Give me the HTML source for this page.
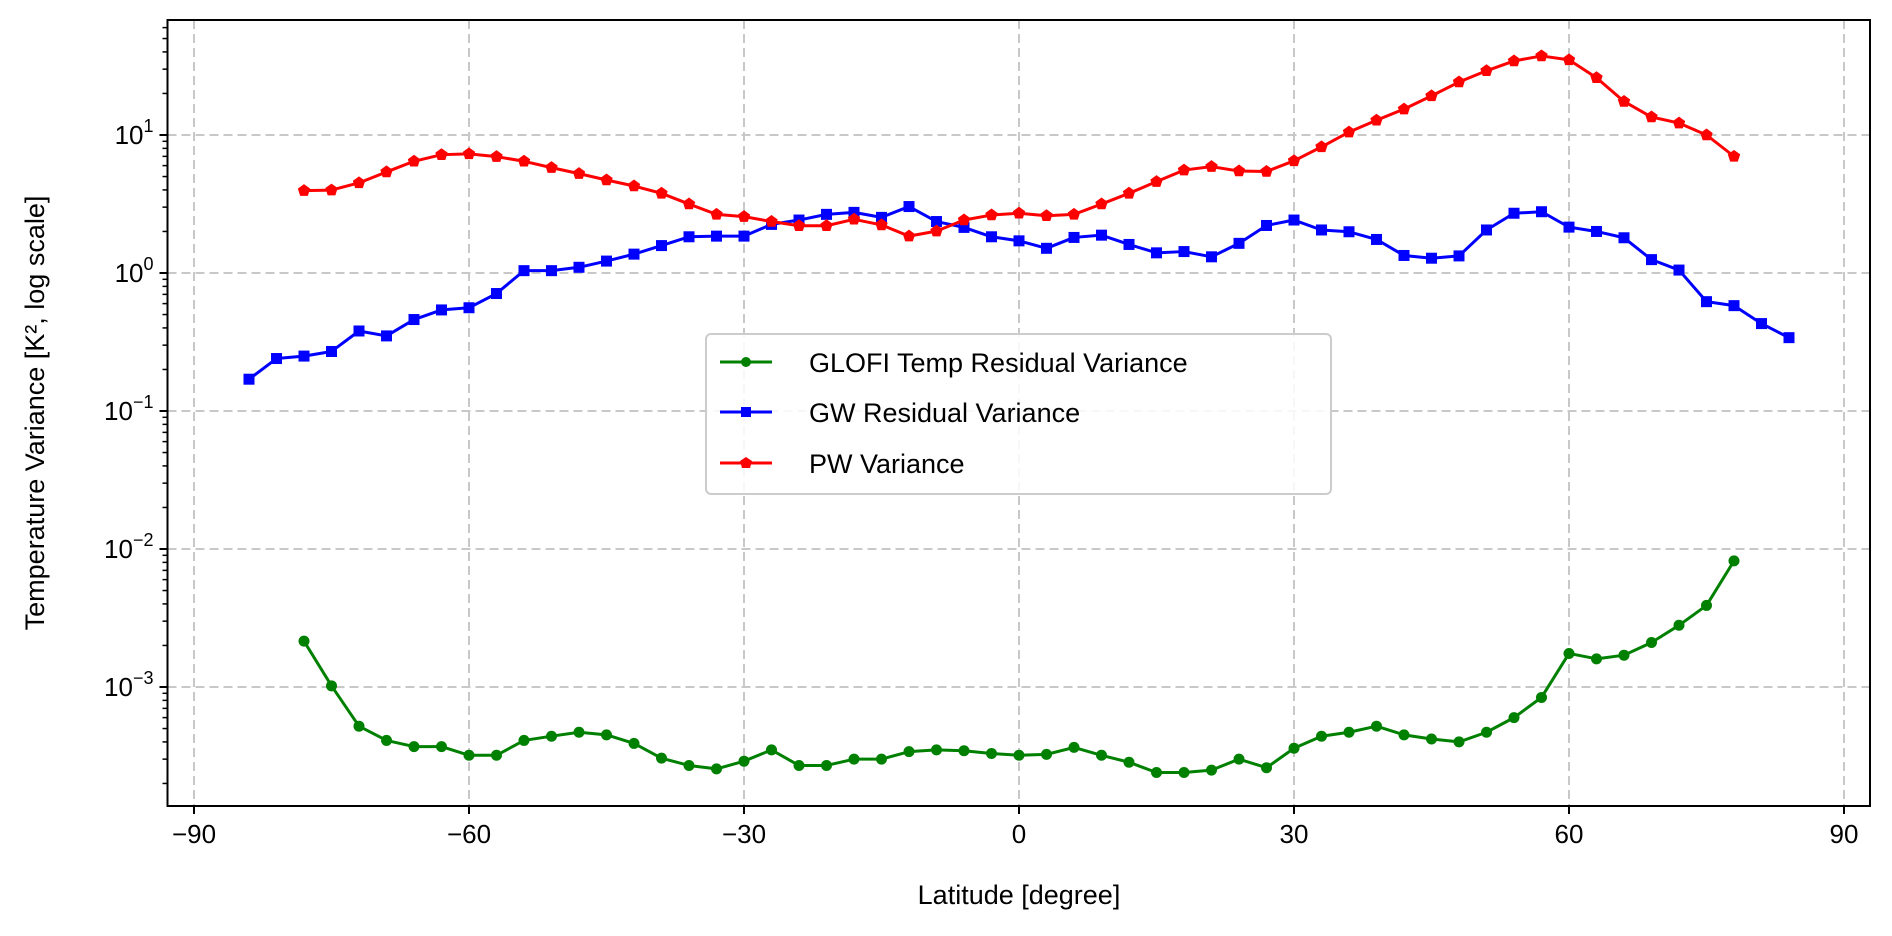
<!DOCTYPE html>
<html><head><meta charset="utf-8"><style>
body{margin:0;background:#fff}
svg text{font-family:"Liberation Sans","DejaVu Sans",sans-serif;fill:#000}
</style></head><body>
<svg id="chart" width="1892" height="931" viewBox="0 0 1892 931" xmlns="http://www.w3.org/2000/svg">
<g id="grid"></g>
<g id="axes"></g>
<g id="series"></g>
<rect x="167.5" y="20" width="1702.5" height="786" fill="none" stroke="#000" stroke-width="2"/>
<text x="1019" y="904" font-size="27" text-anchor="middle">Latitude [degree]</text>
<text transform="translate(44,413) rotate(-90)" font-size="27" text-anchor="middle">Temperature Variance [K², log scale]</text>
<g>
<rect x="706" y="334" width="625" height="160" rx="5" fill="#fff" fill-opacity="0.85" stroke="#ccc" stroke-width="2"/>
<g><line x1="720" x2="772" y1="362" y2="362" stroke="green" stroke-width="3"/><circle cx="746" cy="362" r="5" fill="green"/><text x="809" y="372" font-size="27">GLOFI Temp Residual Variance</text></g>
<g><line x1="720" x2="772" y1="412" y2="412" stroke="blue" stroke-width="3"/><rect x="741" y="407" width="10" height="10" fill="blue"/><text x="809" y="422" font-size="27">GW Residual Variance</text></g>
<g><line x1="720" x2="772" y1="463" y2="463" stroke="red" stroke-width="3"/><polygon points="746,457 752,461 750,468 742,468 740,461" fill="red"/><text x="809" y="473" font-size="27">PW Variance</text></g>
</g>
</svg>
<script>
const latGW=[-84,-81,-78,-75,-72,-69,-66,-63,-60,-57,-54,-51,-48,-45,-42,-39,-36,-33,-30,-27,-24,-21,-18,-15,-12,-9,-6,-3,0,3,6,9,12,15,18,21,24,27,30,33,36,39,42,45,48,51,54,57,60,63,66,69,72,75,78,81,84];
const gwValues=[0.17,0.24,0.25,0.27,0.38,0.35,0.46,0.54,0.56,0.71,1.04,1.04,1.1,1.22,1.37,1.58,1.83,1.85,1.85,2.25,2.42,2.66,2.75,2.53,3.03,2.36,2.14,1.83,1.71,1.51,1.81,1.88,1.61,1.4,1.43,1.31,1.64,2.21,2.42,2.05,1.99,1.75,1.34,1.28,1.33,2.05,2.71,2.78,2.15,2.0,1.8,1.25,1.05,0.62,0.58,0.43,0.34];
const latPW=[-78,-75,-72,-69,-66,-63,-60,-57,-54,-51,-48,-45,-42,-39,-36,-33,-30,-27,-24,-21,-18,-15,-12,-9,-6,-3,0,3,6,9,12,15,18,21,24,27,30,33,36,39,42,45,48,51,54,57,60,63,66,69,72,75,78];
const pwValues=[3.95,3.99,4.5,5.4,6.45,7.2,7.3,6.97,6.45,5.8,5.25,4.72,4.27,3.78,3.16,2.66,2.56,2.36,2.2,2.2,2.45,2.23,1.85,2.01,2.42,2.63,2.71,2.6,2.66,3.16,3.78,4.59,5.57,5.9,5.48,5.44,6.5,8.2,10.5,12.8,15.4,19.2,24.2,29.2,34.4,37.4,35,26,17.5,13.5,12.2,10,7];
const latGL=latPW;
const glofiValues=[2.15e-3,1.02e-3,5.2e-4,4.1e-4,3.7e-4,3.7e-4,3.2e-4,3.2e-4,4.1e-4,4.4e-4,4.7e-4,4.5e-4,3.9e-4,3.05e-4,2.7e-4,2.55e-4,2.9e-4,3.5e-4,2.7e-4,2.7e-4,3.0e-4,3.0e-4,3.4e-4,3.5e-4,3.45e-4,3.3e-4,3.2e-4,3.25e-4,3.65e-4,3.2e-4,2.85e-4,2.4e-4,2.4e-4,2.5e-4,3.0e-4,2.6e-4,3.6e-4,4.4e-4,4.7e-4,5.2e-4,4.5e-4,4.2e-4,4.0e-4,4.7e-4,6.0e-4,8.4e-4,1.75e-3,1.6e-3,1.7e-3,2.1e-3,2.8e-3,3.9e-3,8.2e-3];
const xTicks=[-90,-60,-30,0,30,60,90];
const yTickExps=[-3,-2,-1,0,1];

const NS="http://www.w3.org/2000/svg";
const X0=1019, XS=275/30;
const Y0=273, YS=138;
const L=167.5,R=1870,T=20,B=806;
function xs(v){return X0+v*XS;}
function ys(v){return Y0-Math.log10(v)*YS;}
function mk(tag,attrs,parent){const e=document.createElementNS(NS,tag);for(const k in attrs)e.setAttribute(k,attrs[k]);parent.appendChild(e);return e;}
const grid=document.getElementById('grid'),axes=document.getElementById('axes'),series=document.getElementById('series');

xTicks.forEach(t=>{
  const x=xs(t);
  const g=mk('line',{x1:x,x2:x,y1:T,y2:B,stroke:'#c8c8c8','stroke-width':2,'stroke-dasharray':'9,5'},grid);
  
  
  const tk=mk('line',{x1:x,x2:x,y1:B,y2:B+8,stroke:'#000','stroke-width':2},axes);
  
  
  const tx=mk('text',{x:x,y:B+37,'font-size':26,'text-anchor':'middle'},axes);
  tx.textContent=(t<0?'\u2212':'')+Math.abs(t);
  
  
});
yTickExps.forEach(e=>{
  const y=ys(Math.pow(10,e));
  const g=mk('line',{x1:L,x2:R,y1:y,y2:y,stroke:'#c8c8c8','stroke-width':2,'stroke-dasharray':'9,5'},grid);
  
  
  const tk=mk('line',{x1:L-8,x2:L,y1:y,y2:y,stroke:'#000','stroke-width':2},axes);
  
  
  const tx=mk('text',{x:L-14,y:y+9,'font-size':26,'text-anchor':'end'},axes);
  
  
  const a=mk('tspan',{},tx);a.textContent='10';
  const b=mk('tspan',{dy:-12,'font-size':18},tx);b.textContent=(e<0?'\u2212':'')+Math.abs(e);
});
for(let e=-4;e<=1;e++)for(let m=2;m<=9;m++){
  const y=ys(m*Math.pow(10,e));
  if(y<T||y>B)continue;
  const tk=mk('line',{x1:L-5,x2:L,y1:y,y2:y,stroke:'#000','stroke-width':1.5},axes);
  
  
}
function draw(lats,vals,color,shape,name){
  const g=mk('g',{},series);
  
  
  const pts=lats.map((l,i)=>xs(l)+','+ys(vals[i])).join(' ');
  mk('polyline',{points:pts,fill:'none',stroke:color,'stroke-width':3,'stroke-linejoin':'round'},g);
  lats.forEach((l,i)=>{
    const x=xs(l),y=ys(vals[i]);let m;
    if(shape==='circle')m=mk('circle',{cx:x,cy:y,r:5.5,fill:color},g);
    else if(shape==='square')m=mk('rect',{x:x-5.5,y:y-5.5,width:11,height:11,fill:color},g);
    else{const r=6.5,p=[];for(let k=0;k<5;k++){const a=-Math.PI/2+k*2*Math.PI/5;p.push((x+r*Math.cos(a))+','+(y+r*Math.sin(a)));}m=mk('polygon',{points:p.join(' '),fill:color},g);}
    
    
  });
}
draw(latGL,glofiValues,'green','circle','glofi-series');
draw(latGW,gwValues,'blue','square','gw-series');
draw(latPW,pwValues,'red','pentagon','pw-series');
</script>
</body></html>
